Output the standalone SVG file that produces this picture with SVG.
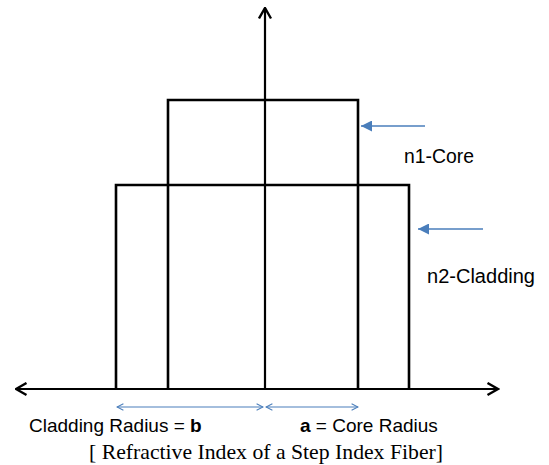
<svg xmlns="http://www.w3.org/2000/svg" width="549" height="465" viewBox="0 0 549 465">
<style>
.ax{stroke:#000;stroke-width:2.2;fill:none}
.bx{stroke:#000;stroke-width:2.6;fill:none}
.bl{stroke:#4a7ebb;stroke-width:1.5;fill:none}
.dim{stroke:#4a7ebb;stroke-width:1.2;fill:none}
.lab{font-family:"Liberation Sans",Arial,sans-serif;font-size:20px;fill:#000}
.bot{font-family:"Liberation Sans",Arial,sans-serif;font-size:19px;fill:#000}
.b{font-weight:bold}
.cap{font-family:"Liberation Serif","Times New Roman",serif;font-size:21px;fill:#000}
</style>
<defs>
<marker id="open" viewBox="0 0 10 10" refX="9" refY="5" markerWidth="15" markerHeight="15" markerUnits="userSpaceOnUse" orient="auto-start-reverse">
<path d="M2,1 L9,5 L2,9" fill="none" stroke="#000" stroke-width="1.6"/>
</marker>
<marker id="tri" viewBox="0 0 10 10" refX="10" refY="5" markerWidth="11" markerHeight="11" markerUnits="userSpaceOnUse" orient="auto-start-reverse">
<path d="M0,0 L10,5 L0,10 Z" fill="#4a7ebb"/>
</marker>
<marker id="dimh" viewBox="0 0 10 10" refX="9" refY="5" markerWidth="8" markerHeight="8" markerUnits="userSpaceOnUse" orient="auto-start-reverse">
<path d="M1,1 L9,5 L1,9" fill="none" stroke="#4a7ebb" stroke-width="1.3"/>
</marker>
</defs>
<rect width="549" height="465" fill="#fff"/>
<g id="axes">
<line class="ax" x1="265" y1="389" x2="265" y2="8" marker-end="url(#open)"/>
<line class="ax" x1="16" y1="389" x2="498" y2="389" marker-start="url(#open)" marker-end="url(#open)"/>
</g>
<g id="core">
<path class="bx" d="M168,389 V100 H358 V389"/>
</g>
<g id="cladding">
<path class="bx" d="M116,389 V185 H409 V389"/>
</g>
<g id="connectors">
<line class="bl" x1="425" y1="126" x2="361" y2="126" marker-end="url(#tri)"/>
<line class="bl" x1="483" y1="229" x2="418" y2="229" marker-end="url(#tri)"/>
<line class="dim" x1="117" y1="407" x2="263" y2="407" marker-start="url(#dimh)" marker-end="url(#dimh)"/>
<line class="dim" x1="266" y1="407" x2="358" y2="407" marker-start="url(#dimh)" marker-end="url(#dimh)"/>
</g>
<g id="labels">
<text class="bot" x="29" y="432">Cladding Radius = <tspan class="b">b</tspan></text>
<text class="bot" x="300" y="432"><tspan class="b">a</tspan> = Core Radius</text>
<text class="lab" x="404" y="163" textLength="70" lengthAdjust="spacingAndGlyphs">n1-Core</text>
<text class="lab" x="427" y="283" textLength="108" lengthAdjust="spacingAndGlyphs">n2-Cladding</text>
<text class="cap" x="89" y="459" textLength="354" lengthAdjust="spacingAndGlyphs">[ Refractive Index of a Step Index Fiber]</text>
</g>
</svg>
